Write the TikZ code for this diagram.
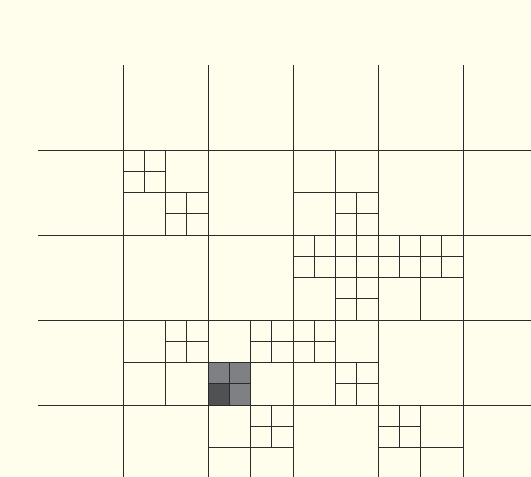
\documentclass[tikz,border=0pt]{standalone}
\definecolor{bg}{HTML}{FFFDEB}
\definecolor{ln}{HTML}{2B2B2B}
\definecolor{gl}{HTML}{7E8083}
\definecolor{gd}{HTML}{505153}
\begin{document}
\begin{tikzpicture}[x=1bp,y=-1bp, gridline/.style={draw=ln,line width=0.8bp}]
\fill[bg] (0,0) rectangle (531,477);
\useasboundingbox (0,0) rectangle (531,477);
\clip (0,0) rectangle (531,477);
% shaded cells
\fill[gl] (208,362.5) rectangle (250.5,405);
\fill[gd] (208,383.75) rectangle (229.25,405);
% main grid
\foreach \x in {123,208,293,378,463} \draw[gridline] (\x,65) -- (\x,477);
\foreach \y in {150,235,320,405} \draw[gridline] (38,\y) -- (531,\y);
% subdivisions: top-left corner x/y and side s
\foreach \x/\y/\s in {
  123/150/85, 293/150/85, 293/235/85, 378/235/85, 123/320/85,
  208/320/85, 293/320/85, 208/405/85, 378/405/85,
  123/150/42.5, 165.5/192.5/42.5, 335.5/192.5/42.5,
  293/235/42.5, 335.5/235/42.5, 335.5/277.5/42.5,
  378/235/42.5, 420.5/235/42.5,
  165.5/320/42.5, 250.5/320/42.5, 208/362.5/42.5,
  293/320/42.5, 335.5/362.5/42.5,
  250.5/405/42.5, 378/405/42.5}
  \draw[gridline] ({\x+\s/2},\y) -- ({\x+\s/2},{\y+\s})
                  (\x,{\y+\s/2}) -- ({\x+\s},{\y+\s/2});
\end{tikzpicture}
\end{document}
